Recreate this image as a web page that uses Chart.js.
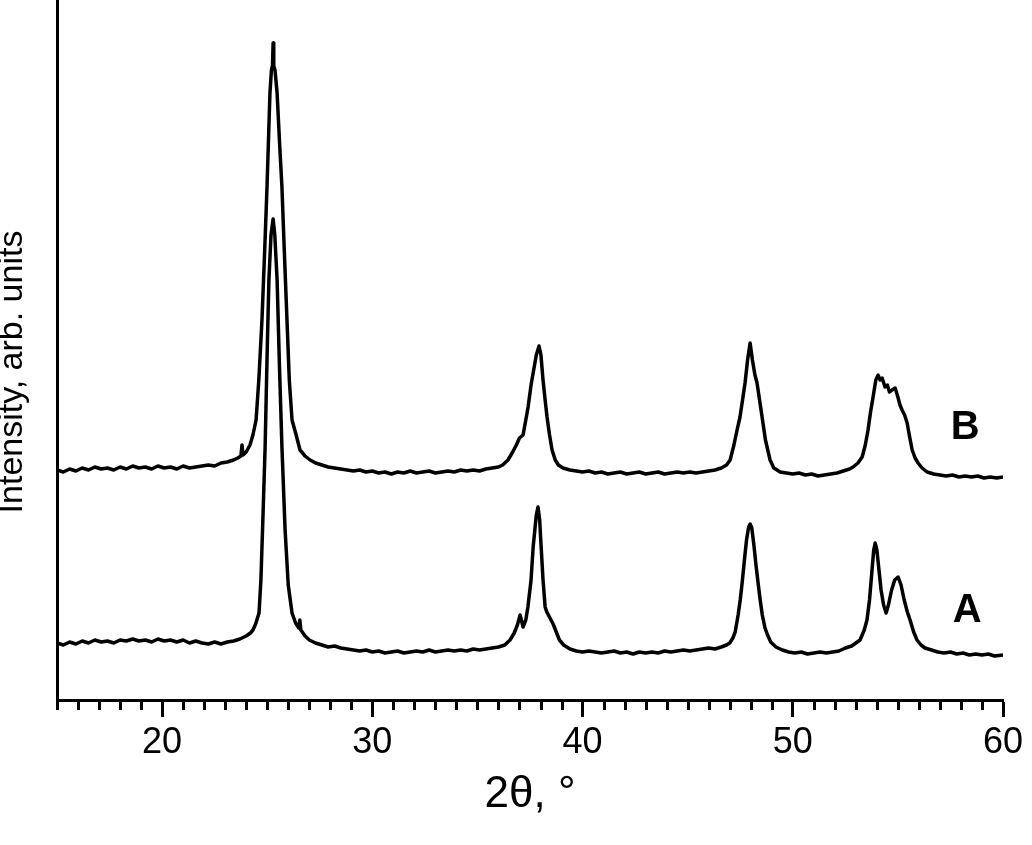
<!DOCTYPE html>
<html><head><meta charset="utf-8">
<script src="https://cdn.jsdelivr.net/npm/chart.js@4.4.0/dist/chart.umd.min.js"></script>
<style>html,body{margin:0;padding:0;background:#fff;}#wrap{width:1032px;height:845px;}</style>
</head><body><div id="wrap"><canvas id="c" width="1032" height="845"></canvas></div>
<script>
// 2θ (degrees) and intensity (arb. units) for sample A
const xA = [15.0,15.3,15.6,15.9,16.2,16.5,16.8,17.1,17.4,17.7,18.0,18.3,18.6,18.9,19.2,19.5,19.8,20.1,20.4,20.7,21.0,21.3,21.6,21.9,22.2,22.5,22.8,23.1,23.4,23.7,24.0,24.2,24.32,24.45,24.61,24.7,24.8,24.9,25.0,25.08,25.18,25.28,25.36,25.47,25.58,25.70,25.85,26.0,26.18,26.35,26.5,26.55,26.6,26.8,27.0,27.3,27.6,27.9,28.2,28.5,28.8,29.1,29.4,29.7,30.0,30.3,30.6,30.9,31.2,31.5,31.8,32.1,32.4,32.7,33.0,33.3,33.6,33.9,34.2,34.5,34.8,35.1,35.4,35.7,36.0,36.3,36.55,36.75,36.9,37.03,37.17,37.3,37.4,37.55,37.65,37.8,37.88,37.96,38.03,38.12,38.22,38.3,38.45,38.6,38.75,38.9,39.1,39.4,39.7,40.0,40.3,40.6,40.9,41.2,41.5,41.8,42.1,42.4,42.7,43.0,43.3,43.6,43.9,44.2,44.5,44.8,45.1,45.4,45.7,46.0,46.3,46.6,46.85,47.0,47.15,47.26,47.4,47.5,47.59,47.7,47.8,47.9,47.97,48.05,48.15,48.25,48.35,48.45,48.55,48.68,48.8,48.95,49.2,49.5,49.8,50.1,50.4,50.7,51.0,51.3,51.6,51.9,52.2,52.5,52.8,53.0,53.2,53.4,53.53,53.65,53.75,53.85,53.92,54.0,54.1,54.2,54.32,54.44,54.55,54.7,54.85,55.01,55.15,55.3,55.45,55.58,55.75,55.91,56.1,56.29,56.6,56.9,57.2,57.5,57.8,58.1,58.4,58.7,59.0,59.3,59.6,60.0];
const yA = [57,55,58,56,59,57,60,58,59,57,60,59,61,59,60,58,61,59,60,58,60,57,59,57,56,58,56,58,59,61,64,67,70,76,87,120,185,253,350,420,465,481,465,420,335,253,170,115,87,77,72,80,70,64,60,57,55,53,54,52,51,50,49,50,48,49,47,48,49,47,48,49,48,50,48,49,50,49,50,49,51,50,51,52,53,55,60,67,75,85,73,80,93,120,153,185,193,180,153,120,93,88,82,76,68,60,55,51,49,48,49,48,47,48,49,47,48,46,48,47,48,47,49,48,49,50,49,50,51,52,51,53,55,57,62,68,85,100,117,140,160,173,176,172,155,135,117,100,85,72,65,58,53,50,48,47,48,46,47,48,47,48,49,52,54,57,60,70,80,100,125,150,157,150,130,110,95,87,95,110,120,123,115,100,88,80,68,60,55,52,50,48,47,48,46,47,45,46,45,46,44,45];

// 2θ (degrees) and intensity (arb. units) for sample B
const xB = [15.0,15.3,15.6,15.9,16.2,16.5,16.8,17.1,17.4,17.7,18.0,18.3,18.6,18.9,19.2,19.5,19.8,20.1,20.4,20.7,21.0,21.3,21.6,21.9,22.2,22.5,22.8,23.1,23.4,23.6,23.75,23.8,23.85,24.0,24.18,24.32,24.47,24.6,24.75,24.88,24.99,25.06,25.13,25.2,25.25,25.28,25.31,25.37,25.47,25.58,25.70,25.82,25.94,26.05,26.18,26.35,26.56,26.8,27.04,27.3,27.6,27.9,28.2,28.5,28.8,29.1,29.4,29.7,30.0,30.3,30.6,30.9,31.2,31.5,31.8,32.1,32.4,32.7,33.0,33.3,33.6,33.9,34.2,34.5,34.8,35.1,35.4,35.7,36.0,36.2,36.45,36.65,36.85,37.0,37.17,37.3,37.41,37.55,37.65,37.8,37.93,38.02,38.12,38.22,38.31,38.43,38.55,38.7,38.85,39.07,39.4,39.7,40.0,40.3,40.6,40.9,41.2,41.5,41.8,42.1,42.4,42.7,43.0,43.3,43.6,43.9,44.2,44.5,44.8,45.1,45.4,45.7,46.0,46.3,46.6,46.85,47.02,47.2,47.35,47.49,47.61,47.73,47.85,47.97,48.08,48.2,48.3,48.42,48.54,48.7,48.92,49.1,49.4,49.7,50.0,50.3,50.6,50.9,51.2,51.5,51.8,52.1,52.4,52.7,52.87,53.1,53.3,53.45,53.58,53.7,53.82,53.95,54.06,54.15,54.25,54.39,54.5,54.6,54.72,54.87,55.0,55.1,55.2,55.32,55.44,55.56,55.68,55.82,55.96,56.15,56.39,56.7,57.0,57.3,57.6,57.9,58.2,58.5,58.8,59.1,59.4,59.7,60.0];
const yB = [230,228,231,229,232,230,233,231,232,230,233,231,234,232,233,231,234,232,233,231,234,232,233,234,235,234,237,238,240,242,244,255,245,248,255,265,280,320,380,450,513,560,607,630,634,657,634,630,607,560,513,445,380,320,280,267,250,244,240,237,235,233,232,231,230,229,230,228,229,227,228,226,228,227,229,227,228,229,227,228,229,228,230,229,230,229,231,232,233,235,240,247,255,262,265,280,293,315,327,345,354,345,320,300,283,265,250,240,235,232,230,229,228,229,227,228,226,227,228,226,227,228,226,227,228,226,227,228,227,228,227,228,229,230,232,235,240,255,270,283,300,317,340,357,340,325,317,300,283,260,240,232,228,227,226,227,225,226,224,225,226,227,229,231,233,237,243,255,270,288,303,320,325,320,322,313,315,308,310,312,303,295,290,285,277,263,250,242,237,232,228,226,225,224,225,223,224,223,224,222,223,222,223];

const xMin = 15, xMax = 60, majorStep = 10, minorStep = 1;
const yMin = 0, yMax = 700;
const xTitle = '2θ, °';
const yTitle = 'Intensity, arb. units';
const seriesNames = ['A', 'B'];
const nameAnchorX = [58.3, 58.2];
const nameAnchorY = [89, 272];

const FONT = '"Liberation Sans", Arial, Helvetica, sans-serif';

const extras = {
  id: 'extras',
  afterDraw(chart) {
    const {ctx, scales: {x, y}} = chart;
    ctx.save();
    ctx.strokeStyle = '#000';
    ctx.lineWidth = 3;
    for (let v = xMin; v <= xMax; v += minorStep) {
      if (v % majorStep === 0) continue;
      const px = Math.round(x.getPixelForValue(v)) + 0.5;
      ctx.beginPath();
      ctx.moveTo(px, y.bottom);
      ctx.lineTo(px, y.bottom + 10);
      ctx.stroke();
    }
    ctx.fillStyle = '#000';
    ctx.font = 'bold 40px ' + FONT;
    ctx.textAlign = 'center';
    ctx.textBaseline = 'middle';
    seriesNames.forEach((n, i) => {
      ctx.fillText(n, x.getPixelForValue(nameAnchorX[i]), y.getPixelForValue(nameAnchorY[i]));
    });
    // y-axis title, rotated
    ctx.save();
    ctx.translate(13, (y.top + y.bottom) / 2 + 22);
    ctx.rotate(-Math.PI / 2);
    ctx.font = '34px ' + FONT;
    ctx.fillText(yTitle, 0, 0);
    ctx.restore();
    ctx.restore();
  }
};

new Chart(document.getElementById('c'), {
  type: 'line',
  data: {
    datasets: [
      {label: 'A', data: xA.map((v, i) => ({x: v, y: yA[i]})), borderColor: '#000', borderWidth: 3.5, pointRadius: 0, tension: 0, fill: false, borderJoinStyle: 'round'},
      {label: 'B', data: xB.map((v, i) => ({x: v, y: yB[i]})), borderColor: '#000', borderWidth: 3.5, pointRadius: 0, tension: 0, fill: false, borderJoinStyle: 'round'}
    ]
  },
  options: {
    responsive: false,
    animation: false,
    devicePixelRatio: 1,
    layout: {padding: {left: 0, right: 29, top: 0, bottom: 0}},
    plugins: {legend: {display: false}, tooltip: {enabled: false}},
    scales: {
      x: {
        type: 'linear', min: xMin, max: xMax,
        ticks: {
          stepSize: minorStep, autoSkip: false, maxRotation: 0, minRotation: 0, padding: 4,
          color: '#000', font: {family: FONT, size: 36},
          callback: v => (v % majorStep === 0 ? String(v) : '')
        },
        grid: {
          display: true, drawOnChartArea: false, drawTicks: true, tickLength: 17, tickWidth: 3,
          tickColor: c => (c.tick && c.tick.value % majorStep === 0) ? '#000' : 'rgba(0,0,0,0)'
        },
        border: {display: true, color: '#000', width: 3},
        title: {display: true, text: xTitle, color: '#000', font: {family: FONT, size: 44}, padding: {top: 0, bottom: 24}},
        afterFit: s => { s.height = 145; }
      },
      y: {
        min: yMin, max: yMax,
        ticks: {display: false},
        grid: {display: false, drawTicks: false},
        border: {display: true, color: '#000', width: 3},
        title: {display: false, text: yTitle},
        afterFit: s => { s.width = 57; }
      }
    }
  },
  plugins: [extras]
});
</script>
</body></html>
